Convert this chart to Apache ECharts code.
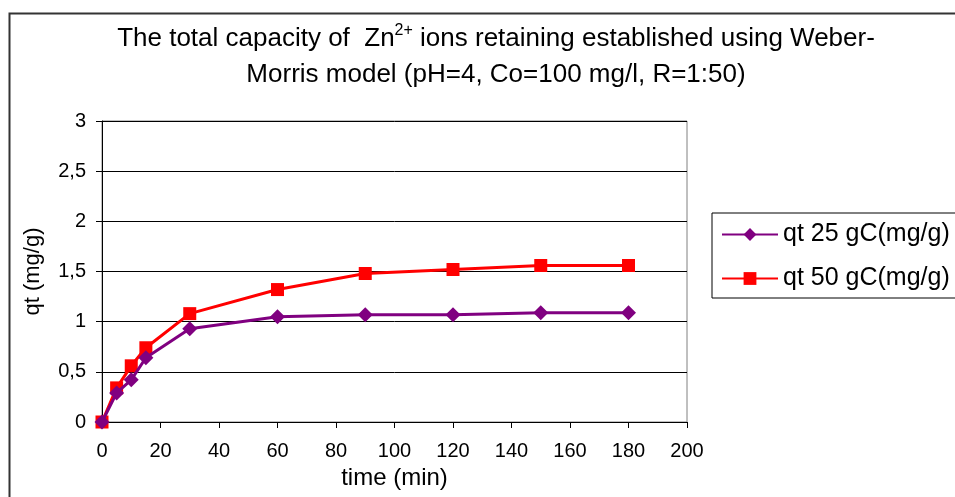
<!DOCTYPE html>
<html>
<head>
<meta charset="utf-8">
<script src="https://cdn.jsdelivr.net/npm/echarts@6/dist/echarts.min.js"></script>
<style>
html,body{margin:0;padding:0;background:#fff;}
#c{width:955px;height:497px;}
</style>
</head>
<body>
<div id="c"></div>
<script>
const timeMin = [0, 5, 10, 15, 30, 60, 90, 120, 150, 180];
const qt25 = [0, 0.29, 0.42, 0.64, 0.93, 1.05, 1.07, 1.07, 1.09, 1.09];
const qt50 = [0, 0.34, 0.56, 0.74, 1.08, 1.32, 1.48, 1.52, 1.56, 1.56];
const seriesNames = ['qt 25 gC(mg/g)', 'qt 50 gC(mg/g)'];
const xTitle = 'time (min)';
const yTitle = 'qt (mg/g)';

const chart = echarts.init(document.getElementById('c'), null, {renderer: 'canvas'});
const FONT = 'Liberation Sans, Arial, sans-serif';
const pair = (xs, ys) => xs.map((x, i) => [x, ys[i]]);

chart.setOption({
  animation: false,
  backgroundColor: '#fff',
  textStyle: {fontFamily: FONT, color: '#000'},
  graphic: [{
    type: 'rect',
    shape: {x: 9.5, y: 13.5, width: 1000, height: 600},
    style: {fill: 'none', stroke: '#333', lineWidth: 2},
    silent: true, z: -1
  }],
  title: {
    left: 491, top: 16, textAlign: 'center',
    text: '{a|The total capacity of  Zn}{sup|2+}{a| ions retaining established using Weber-}\n{a|Morris model (pH=4, Co=100 mg/l, R=1:50)}',
    textStyle: {
      fontFamily: FONT, fontWeight: 'normal', color: '#000',
      rich: {
        a: {fontSize: 26, lineHeight: 36, fontFamily: FONT, color: '#000'},
        sup: {fontSize: 16, lineHeight: 36, fontFamily: FONT, color: '#000', verticalAlign: 'top', padding: [2, 0, 0, 0]}
      }
    }
  },
  legend: {
    left: 712, top: 213,
    orient: 'vertical',
    borderColor: '#000', borderWidth: 1,
    padding: [9, 60, 7, 9],
    itemWidth: 56, itemHeight: 16, itemGap: 19,
    textStyle: {fontSize: 25, fontFamily: FONT, color: '#000'},
    data: seriesNames
  },
  grid: {
    left: 102, top: 121, width: 585, height: 301,
    show: true, borderColor: '#808080', borderWidth: 1,
    containLabel: false
  },
  xAxis: {
    type: 'value', min: 0, max: 200, interval: 20,
    name: xTitle, nameLocation: 'middle', nameGap: 43,
    nameTextStyle: {fontSize: 24, fontFamily: FONT, color: '#000'},
    axisLine: {show: true, lineStyle: {color: '#000', width: 1}},
    axisTick: {show: true, inside: false, length: 6, lineStyle: {color: '#000'}},
    axisLabel: {fontSize: 20, fontFamily: FONT, color: '#000', margin: 19},
    splitLine: {show: false}
  },
  yAxis: {
    type: 'value', min: 0, max: 3, interval: 0.5,
    name: yTitle, nameLocation: 'middle', nameGap: 58, nameRotate: 90,
    nameTextStyle: {fontSize: 22, fontFamily: FONT, color: '#000'},
    axisLine: {show: true, lineStyle: {color: '#000', width: 1}},
    axisTick: {show: true, inside: false, length: 6, lineStyle: {color: '#000'}},
    axisLabel: {fontSize: 20, fontFamily: FONT, color: '#000', margin: 16,
      formatter: v => String(v).replace('.', ',')},
    splitLine: {show: true, lineStyle: {color: '#000', width: 1}}
  },
  series: [
    {
      name: seriesNames[0], type: 'line', data: pair(timeMin, qt25),
      symbol: 'diamond', symbolSize: 15,
      lineStyle: {color: '#800080', width: 3},
      itemStyle: {color: '#800080'}, z: 3
    },
    {
      name: seriesNames[1], type: 'line', data: pair(timeMin, qt50),
      symbol: 'rect', symbolSize: 13,
      lineStyle: {color: '#ff0000', width: 3},
      itemStyle: {color: '#ff0000'}, z: 2
    }
  ]
});
</script>
</body>
</html>
